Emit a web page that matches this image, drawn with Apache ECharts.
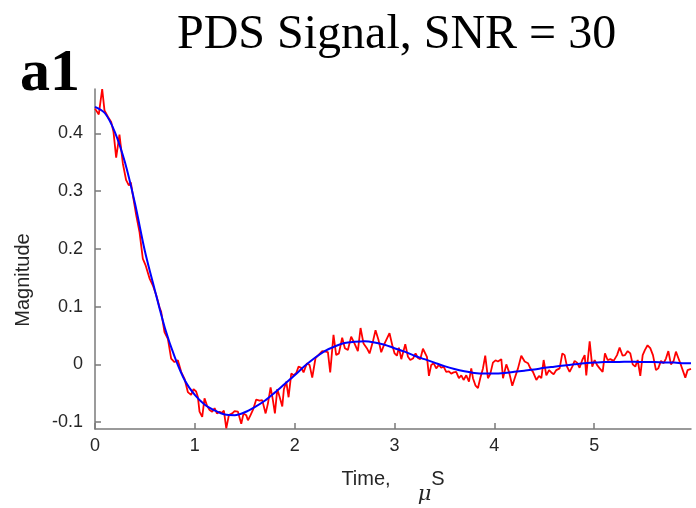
<!DOCTYPE html>
<html><head><meta charset="utf-8">
<script src="https://cdn.jsdelivr.net/npm/echarts@6/dist/echarts.min.js"></script>
<style>html,body{margin:0;padding:0;background:#fff}#c{width:696px;height:508px}</style>
</head><body><div id="c"></div>
<script>
const titleText = 'PDS Signal, SNR = 30';
const panelLabel = 'a1';
const yAxisName = 'Magnitude';
const xTickValues = [0, 1, 2, 3, 4, 5];
const yTickValues = [-0.1, 0, 0.1, 0.2, 0.3, 0.4];

// smooth fitted curve (blue)
const fitTime = [0,0.1,0.2,0.3,0.4,0.5,0.6,0.7,0.8,0.9,1.0,1.1,1.2,1.3,1.4,1.5,1.6,1.7,1.8,1.9,2.0,2.1,2.2,2.3,2.4,2.5,2.6,2.7,2.8,2.9,3.0,3.1,3.2,3.3,3.4,3.5,3.6,3.7,3.8,3.9,4.0,4.1,4.2,4.3,4.4,4.5,4.6,4.7,4.8,4.9,5.0,5.1,5.2,5.3,5.4,5.5,5.6,5.7,5.8,5.9,5.97];
const fitValue = [0.446,0.435,0.402,0.350,0.279,0.196,0.128,0.063,0.012,-0.028,-0.053,-0.070,-0.080,-0.087,-0.088,-0.083,-0.074,-0.063,-0.049,-0.034,-0.019,-0.003,0.011,0.023,0.031,0.037,0.039,0.040,0.038,0.034,0.028,0.022,0.015,0.009,0.003,-0.003,-0.008,-0.012,-0.015,-0.016,-0.016,-0.015,-0.013,-0.011,-0.009,-0.006,-0.004,-0.002,0.000,0.002,0.003,0.004,0.004,0.0045,0.0045,0.004,0.004,0.003,0.003,0.002,0.002];

// noisy signal (red)
const noisyTime = [0,0.038,0.072,0.095,0.129,0.162,0.185,0.212,0.245,0.279,0.312,0.339,0.359,0.379,0.413,0.446,0.479,0.506,0.546,0.579,0.613,0.646,0.663,0.696,0.730,0.763,0.796,0.830,0.863,0.897,0.930,
0.963,0.987,1.013,1.030,1.047,1.074,1.097,1.121,1.148,1.174,1.198,1.221,1.248,1.271,1.291,1.315,1.341,1.375,1.398,1.432,1.465,1.488,1.515,1.532,1.558,1.582,1.615,1.649,1.675,1.709,1.732,1.759,1.782,1.802,1.826,1.849,1.876,1.892,1.916,1.939,1.966,1.989,2.016,2.039,
2.066,2.089,2.123,2.149,2.176,2.209,2.243,2.276,2.309,2.333,2.356,2.389,2.416,2.443,2.476,2.503,2.533,2.566,2.600,2.633,2.660,2.690,2.723,2.750,2.783,2.810,2.840,2.867,2.900,2.950,
2.978,3.001,3.024,3.044,3.068,3.085,3.108,3.135,3.158,3.185,3.211,3.235,3.258,3.285,3.301,3.325,3.345,3.368,3.392,3.418,3.445,3.468,3.492,3.518,3.545,3.568,3.592,3.618,3.645,3.669,3.692,3.719,3.746,3.769,3.786,3.812,3.836,3.859,3.886,3.909,3.936,3.959,3.986,4.012,4.036,
4.070,4.087,4.120,4.147,4.180,4.204,4.237,4.270,4.304,4.337,4.361,4.387,4.421,4.447,4.471,4.494,4.521,4.548,4.571,4.594,4.621,4.654,4.681,4.704,4.728,4.754,4.781,4.804,4.828,4.854,4.881,4.905,4.921,4.955,4.981,5.005,5.028,5.055,
5.085,5.108,5.135,5.162,5.195,5.229,5.255,5.285,5.309,5.336,5.362,5.386,5.412,5.436,5.462,5.486,5.509,5.535,5.562,5.589,5.619,5.642,5.669,5.696,5.719,5.743,5.769,5.796,5.819,5.843,5.869,5.886,5.913,5.936,5.97];
const noisyValue = [0.443,0.433,0.477,0.440,0.429,0.420,0.403,0.358,0.398,0.348,0.319,0.310,0.315,0.293,0.258,0.229,0.183,0.172,0.149,0.137,0.120,0.099,0.091,0.056,0.044,0.010,0.004,0.007,-0.013,-0.025,-0.048,
-0.053,-0.043,-0.047,-0.056,-0.082,-0.091,-0.059,-0.071,-0.079,-0.082,-0.076,-0.085,-0.082,-0.084,-0.080,-0.111,-0.088,-0.085,-0.081,-0.082,-0.103,-0.085,-0.088,-0.097,-0.088,-0.079,-0.061,-0.063,-0.062,-0.085,-0.068,-0.040,-0.062,-0.085,-0.043,-0.056,-0.073,-0.043,-0.030,-0.057,-0.016,-0.019,-0.015,-0.004,
-0.006,-0.014,0.002,-0.001,-0.023,0.011,0.017,0.023,0.022,0.021,-0.014,0.051,0.016,0.019,0.046,0.028,0.025,0.048,0.036,0.023,0.063,0.036,0.028,0.019,0.039,0.059,0.042,0.021,0.036,0.054,
0.033,0.019,0.015,0.029,0.009,0.0075,0.035,0.013,0.0075,0.010,0.019,0.011,0.009,0.027,0.025,0.013,-0.020,-0.001,0.002,-0.007,-0.001,-0.006,-0.004,-0.013,-0.012,-0.016,-0.014,-0.013,-0.024,-0.019,-0.027,-0.019,-0.030,-0.007,-0.024,-0.037,-0.041,-0.024,-0.007,0.015,-0.024,-0.017,0.003,0.007,0.005,
0.009,-0.024,0.000,-0.013,-0.037,-0.024,-0.007,0.015,0.005,0.002,-0.007,-0.013,-0.027,-0.020,-0.024,0.0075,-0.019,-0.010,-0.014,-0.017,-0.010,-0.007,0.019,0.016,-0.004,-0.013,-0.004,0.006,0.003,-0.006,0.0075,0.016,-0.019,0.040,-0.004,0.0075,-0.001,-0.007,
-0.013,0.019,0.0075,0.009,0.006,0.016,0.029,0.015,0.016,0.023,0.019,0.000,-0.004,0.0075,-0.020,0.016,0.025,0.033,0.028,0.016,-0.010,-0.007,0.006,0.002,0.010,0.023,0.000,0.006,0.022,0.011,-0.001,-0.001,-0.023,-0.010,-0.008];

const noisyData = noisyTime.map((t, i) => [t, noisyValue[i]]);
const fitData = fitTime.map((t, i) => [t, fitValue[i]]);

const axisGray = '#7a7a7a';
const labelColor = '#262626';
const chart = echarts.init(document.getElementById('c'), null, {renderer: 'canvas'});
chart.setOption({
  animation: false,
  backgroundColor: '#fff',
  title: [
    {text: titleText, left: 172, top: 6,
     textStyle: {fontFamily: 'Liberation Serif', fontSize: 48, fontWeight: 'normal', color: '#000'}},
    {text: panelLabel, left: 15, top: 39,
     textStyle: {fontFamily: 'Liberation Serif', fontSize: 60, fontWeight: 'bold', color: '#000'}}
  ],
  grid: {left: 95, right: 5, top: 89, bottom: 79, containLabel: false, outerBoundsMode: 'none'},
  xAxis: {
    type: 'value', min: 0, max: 5.97,
    name: '{t|Time,}{sp|}{mu|μ}{s|S}',
    nameLocation: 'middle', nameGap: 40,
    nameTextStyle: {
      rich: {
        t: {fontFamily: 'Liberation Sans', fontSize: 20, color: labelColor, verticalAlign: 'top', lineHeight: 22},
        sp: {width: 27, height: 36},
        mu: {fontFamily: 'DejaVu Serif', fontStyle: 'italic', fontSize: 21, color: labelColor, verticalAlign: 'bottom', lineHeight: 22},
        s: {fontFamily: 'Liberation Sans', fontSize: 20, color: labelColor, verticalAlign: 'top', lineHeight: 22}
      }
    },
    axisLine: {show: true, onZero: false, lineStyle: {color: axisGray, width: 1.5}},
    axisTick: {show: true, inside: true, length: 6, customValues: xTickValues, lineStyle: {color: axisGray, width: 1.5}},
    axisLabel: {customValues: xTickValues, margin: 8, fontFamily: 'Liberation Sans', fontSize: 18, color: labelColor},
    splitLine: {show: false}
  },
  yAxis: {
    type: 'value', min: -0.112, max: 0.477,
    name: yAxisName, nameLocation: 'middle', nameGap: 62,
    nameTextStyle: {fontFamily: 'Liberation Sans', fontSize: 20, color: labelColor, padding: [0, 42, 0, 0]},
    axisLine: {show: true, onZero: false, lineStyle: {color: axisGray, width: 1.5}},
    axisTick: {show: true, inside: true, length: 6, customValues: yTickValues, lineStyle: {color: axisGray, width: 1.5}},
    axisLabel: {customValues: yTickValues, margin: 12, fontFamily: 'Liberation Sans', fontSize: 18, color: labelColor},
    splitLine: {show: false}
  },
  series: [
    {type: 'line', name: 'Noisy', data: noisyData, showSymbol: false, symbol: 'none',
     lineStyle: {color: '#ff0000', width: 1.8}, itemStyle: {color: '#ff0000'}, z: 2},
    {type: 'line', name: 'Fit', data: fitData, showSymbol: false, symbol: 'none', smooth: 0.3,
     lineStyle: {color: '#0000ff', width: 2}, itemStyle: {color: '#0000ff'}, z: 3}
  ]
});
</script>
</body></html>
